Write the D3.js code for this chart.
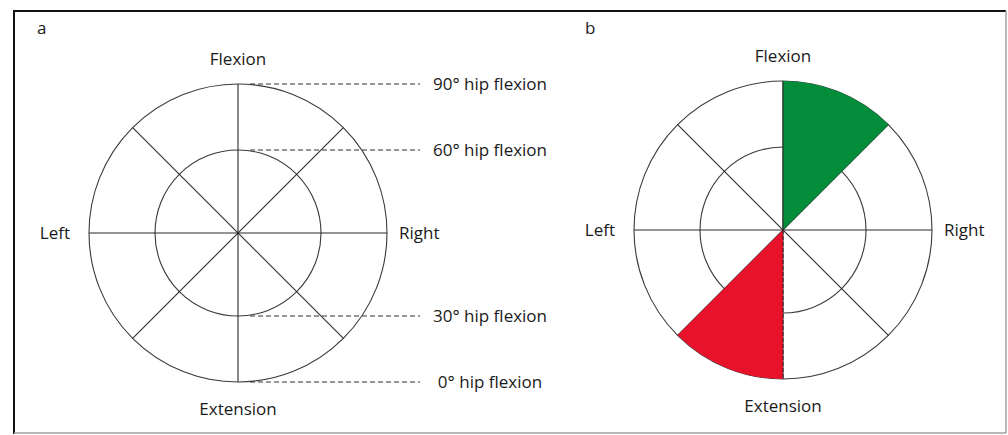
<!DOCTYPE html>
<html>
<head>
<meta charset="utf-8">
<script src="https://cdn.jsdelivr.net/npm/d3@7"></script>
<style>
  html, body { margin: 0; padding: 0; background: #fff; }
  svg { display: block; }
  text { font-family: "Open Sans", "Noto Sans", sans-serif; fill: #1a1a1a; }
</style>
</head>
<body>
<svg id="chart" width="1008" height="435"></svg>
<script>
// ---- data ----
const panels = ["a", "b"];
const directions = ["Flexion", "Right", "Extension", "Left"];   // clockwise from top
const spokeAngles = [0, 45, 90, 135];                            // degrees, lines through center
const ringLevels = [60, 90];                                     // hip flexion at top of each ring
const hipTicks = [90, 60, 30, 0];                                // labelled hip flexion levels (panel a)
const hipTickLabels = ["90° hip flexion", "60° hip flexion", "30° hip flexion", "0° hip flexion"];
const sectorStart = [0, 180];                                    // panel b sectors, degrees clockwise from top
const sectorEnd = [45, 225];
const sectorColors = ["#038c3a", "#e8132a"];

// ---- layout ----
const svg = d3.select("#chart");
const W = 1008, H = 435;
const R = 149, rIn = 83;
const centers = { a: [238, 233], b: [783, 230] };

// hip flexion (vertical position) -> y offset from centre
const hipY = d3.scaleLinear().domain([0, 30, 60, 90]).range([R, rIn, -rIn, -R]);
const ringR = d => Math.abs(hipY(d));
const ang = d3.scaleLinear().domain([0, 360]).range([0, 2 * Math.PI]);

// border
svg.append("line").attr("x1", 13).attr("x2", 1006).attr("y1", 11).attr("y2", 11)
  .attr("stroke", "#111").attr("stroke-width", 2);
svg.append("line").attr("x1", 14).attr("x2", 14).attr("y1", 10).attr("y2", 434)
  .attr("stroke", "#111").attr("stroke-width", 2);
svg.append("line").attr("x1", 1006).attr("x2", 1006).attr("y1", 11).attr("y2", 433)
  .attr("stroke", "#a0a0a0").attr("stroke-width", 1.5);
svg.append("line").attr("x1", 14).attr("x2", 1006).attr("y1", 433).attr("y2", 433)
  .attr("stroke", "#a0a0a0").attr("stroke-width", 1.5);

const fs = 17;

panels.forEach(p => {
  const [cx, cy] = centers[p];
  const g = svg.append("g").attr("transform", `translate(${cx},${cy})`);

  // panel letter
  svg.append("text").attr("x", p === "a" ? 37 : 585).attr("y", 34)
    .attr("font-size", fs).text(p);

  // rings
  g.selectAll("circle.ring").data(ringLevels).join("circle")
    .attr("class", "ring").attr("r", d => ringR(d))
    .attr("fill", "none").attr("stroke", "#3a3a3a").attr("stroke-width", 1.1);

  // spokes
  g.selectAll("line.spoke").data(spokeAngles).join("line")
    .attr("class", "spoke")
    .attr("x1", d => R * Math.sin(ang(d))).attr("y1", d => -R * Math.cos(ang(d)))
    .attr("x2", d => -R * Math.sin(ang(d))).attr("y2", d => R * Math.cos(ang(d)))
    .attr("stroke", "#2a2a2a").attr("stroke-width", 1.1);

  if (p === "b") {
    const arc = d3.arc().innerRadius(0).outerRadius(ringR(90));
    g.selectAll("path.sector").data(sectorStart).join("path")
      .attr("class", "sector")
      .attr("d", (d, i) => arc({ startAngle: ang(d), endAngle: ang(sectorEnd[i]) }))
      .attr("fill", (d, i) => sectorColors[i]);
    // vertical axis drawn over the fills
    g.append("line").attr("x1", 0).attr("x2", 0).attr("y1", -R).attr("y2", 0)
      .attr("stroke", "#2a2a2a").attr("stroke-width", 1);
    g.append("line").attr("x1", 0).attr("x2", 0).attr("y1", 0).attr("y2", R)
      .attr("stroke", "#3a1a1a").attr("stroke-width", 1).attr("stroke-dasharray", "4,2");
  }

  // direction labels
  g.append("text").attr("x", 0).attr("y", -168).attr("text-anchor", "middle")
    .attr("font-size", fs).text(directions[0]);
  g.append("text").attr("x", 161).attr("y", 6).attr("text-anchor", "start")
    .attr("font-size", fs).text(directions[1]);
  g.append("text").attr("x", 0).attr("y", 182).attr("text-anchor", "middle")
    .attr("font-size", fs).text(directions[2]);
  g.append("text").attr("x", -168).attr("y", 6).attr("text-anchor", "end")
    .attr("font-size", fs).text(directions[3]);

  if (p === "a") {
    g.selectAll("line.hip").data(hipTicks).join("line")
      .attr("class", "hip")
      .attr("x1", 12).attr("x2", 182)
      .attr("y1", d => hipY(d)).attr("y2", d => hipY(d))
      .attr("stroke", "#333").attr("stroke-width", 1).attr("stroke-dasharray", "5,3");
    g.selectAll("text.hip").data(hipTicks).join("text")
      .attr("class", "hip")
      .attr("x", 252).attr("y", d => hipY(d) + 6)
      .attr("text-anchor", "middle").attr("font-size", fs)
      .text((d, i) => hipTickLabels[i]);
  }
});
</script>
</body>
</html>
